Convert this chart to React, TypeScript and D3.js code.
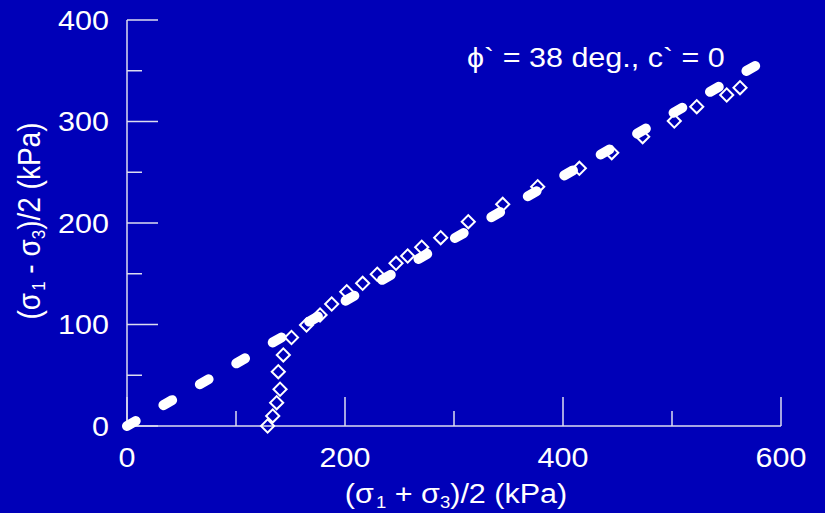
import React from "react";
import * as d3 from "d3";

const width = 825;
const height = 513;
const margin = { top: 20, right: 44, bottom: 87, left: 127 };
const bg = "#0000b8";
const fg = "#ffffff";
const axisColor = "#dcdcf0";
const font = "'Liberation Sans', Arial, sans-serif";
const stretch = 1.09; // the text in the picture is a little wide

// stress path points: p = (s1+s3)/2, q = (s1-s3)/2, kPa
const pValues = [
  129, 133.7, 137.3, 140.4, 138.8, 143.4, 150.9, 164.7, 177.1, 187.8, 201.6,
  216.2, 229.6, 246.8, 257.5, 270.4, 287.8, 313.1, 344.7, 376.8, 415, 444.7,
  473.1, 502.1, 522.7, 550.2, 562.4
];
const qValues = [
  0, 9.9, 23, 36.2, 53.5, 70, 87.2, 99.5, 109.4, 120.2, 132.3, 140.6, 149.5,
  160.3, 167.5, 176.1, 185.5, 201.3, 218.4, 235.8, 253.9, 269.3, 285, 300.5,
  314.6, 326.1, 333.3
];

// failure envelope (phi' = 38 deg, c' = 0)
const envelopeP = [0, 580];
const envelopeQ = [0, 357];

const xTicks = [0, 200, 400, 600];
const xMinorTicks = [100, 300, 500];
const yTicks = [0, 100, 200, 300, 400];
const yMinorTicks = [50, 150, 250, 350];

const xScale = d3
  .scaleLinear()
  .domain([0, 600])
  .range([margin.left, width - margin.right]);
const yScale = d3
  .scaleLinear()
  .domain([0, 400])
  .range([height - margin.bottom, margin.top]);

const lineGenerator = d3
  .line<number>()
  .x((d, i) => xScale(envelopeP[i]))
  .y(d => yScale(d));

const diamond = d3.symbol().type(d3.symbolSquare).size(86)();

const at = (x: number, y: number) => `translate(${x},${y}) scale(${stretch},1)`;

export default function App() {
  const x0 = xScale(0);
  const y0 = yScale(0);
  return (
    <svg
      width={width}
      height={height}
      style={{ position: "fixed", left: 0, top: 0, display: "block" }}
      fontFamily={font}
    >
      <rect width={width} height={height} fill={bg} />

      {/* axes */}
      <g stroke={axisColor} strokeWidth={1.5}>
        <line x1={x0} x2={x0} y1={yScale(400)} y2={y0} />
        <line x1={x0} x2={xScale(600)} y1={y0} y2={y0} />
        {yTicks.map(t => (
          <line key={"ym" + t} x1={x0} x2={x0 + 31} y1={yScale(t)} y2={yScale(t)} />
        ))}
        {yMinorTicks.map(t => (
          <line key={"yn" + t} x1={x0} x2={x0 + 15} y1={yScale(t)} y2={yScale(t)} />
        ))}
        {xTicks.map(t => (
          <line key={"xm" + t} x1={xScale(t)} x2={xScale(t)} y1={y0} y2={y0 - 29} />
        ))}
        {xMinorTicks.map(t => (
          <line key={"xn" + t} x1={xScale(t)} x2={xScale(t)} y1={y0} y2={y0 - 15} />
        ))}
      </g>

      {/* tick labels */}
      <g fill={fg} fontSize={28}>
        {yTicks.map(t => (
          <text key={"yl" + t} transform={at(x0 - 18, yScale(t))} dy="0.35em" textAnchor="end">
            {t}
          </text>
        ))}
        {xTicks.map(t => (
          <text key={"xl" + t} transform={at(xScale(t), y0 + 41)} textAnchor="middle">
            {t}
          </text>
        ))}
      </g>

      {/* axis titles */}
      <text transform={at(456, 503)} fill={fg} fontSize={28} textAnchor="middle">
        (σ<tspan fontSize={17} dy={5} dx={2}>1</tspan>
        <tspan dy={-5}> + σ</tspan>
        <tspan fontSize={17} dy={5}>3</tspan>
        <tspan dy={-5}>)/2 (kPa)</tspan>
      </text>
      <text
        transform={`translate(40,221) scale(${stretch},1) rotate(-90)`}
        fill={fg}
        fontSize={28}
        textAnchor="middle"
      >
        (σ<tspan fontSize={17} dy={5} dx={2}>1</tspan>
        <tspan dy={-5}> - σ</tspan>
        <tspan fontSize={17} dy={5}>3</tspan>
        <tspan dy={-5}>)/2 (kPa)</tspan>
      </text>

      {/* failure envelope */}
      <path
        d={lineGenerator(envelopeQ) || ""}
        fill="none"
        stroke={fg}
        strokeWidth={10}
        strokeLinecap="round"
        strokeDasharray="10 32"
      />

      {/* stress path */}
      <g fill="none" stroke={fg} strokeWidth={2}>
        {pValues.map((p, i) => (
          <path
            key={i}
            d={diamond || ""}
            transform={`translate(${xScale(p)},${yScale(qValues[i])}) rotate(45)`}
          />
        ))}
      </g>

      <text transform={at(467, 67)} fill={fg} fontSize={28}>
        ϕ` = 38 deg., c` = 0
      </text>
    </svg>
  );
}
